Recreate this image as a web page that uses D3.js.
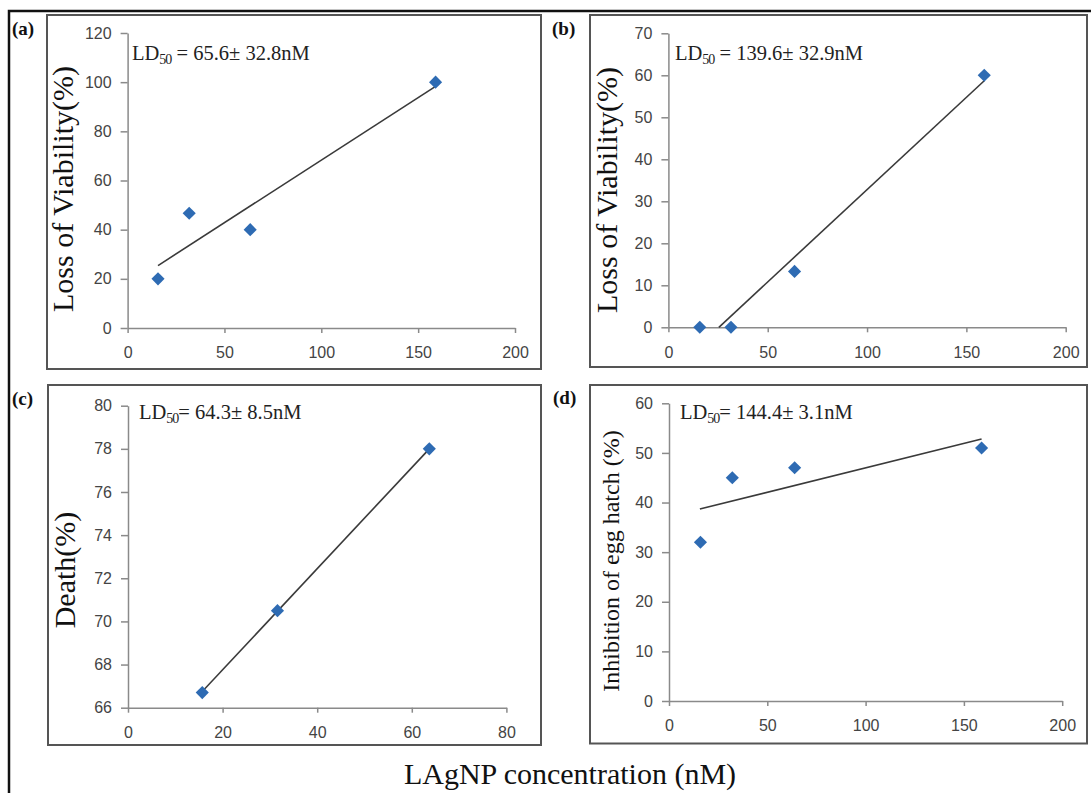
<!DOCTYPE html>
<html>
<head>
<meta charset="utf-8">
<script src="https://cdn.jsdelivr.net/npm/d3@7"></script>
<style>
  body { margin: 0; background: #fff; }
  svg { display: block; }
  .tick text { font-family: "Liberation Sans", Arial, sans-serif; font-size: 16px; fill: #444; }
  .axis path, .axis line { stroke: #8a8a8a; stroke-width: 1.5; }
</style>
</head>
<body>
<svg width="1091" height="793"></svg>
<script>
// Concentrations (nM)
var concA = [15.7, 31.8, 63.3, 159];
var concB = [15.8, 31.5, 63.5, 159];
var concC = [15.7, 31.6, 63.7];
var concD = [16, 32.2, 63.9, 159];

// Responses (%)
var viabilityA = [20, 46.7, 40, 100];
var viabilityB = [0, 0, 13.3, 60];
var deathC = [66.7, 70.5, 78];
var hatchD = [32, 45, 47, 51];

// Trend line end points [x, y] as drawn
var trendA = [[15.7, 25.4], [159, 98.3]];
var trendB = [[25.4, 0], [159, 58.7]];
var trendC = [[15.7, 66.75], [63.7, 78]];
var trendD = [[15.7, 38.7], [159, 52.8]];

// Tick labels
var xTicks200 = [0, 50, 100, 150, 200];
var xTicks80 = [0, 20, 40, 60, 80];
var yTicksA = [0, 20, 40, 60, 80, 100, 120];
var yTicksB = [0, 10, 20, 30, 40, 50, 60, 70];
var yTicksC = [66, 68, 70, 72, 74, 76, 78, 80];
var yTicksD = [0, 10, 20, 30, 40, 50, 60];

var ldTexts = ["65.6\u00b1 32.8nM", "139.6\u00b1 32.9nM", "64.3\u00b1 8.5nM", "144.4\u00b1 3.1nM"];

var svg = d3.select("svg");

// outer frame
svg.append("rect")
  .attr("x", 9).attr("y", 11)
  .attr("width", 1100).attr("height", 800)
  .attr("fill", "none")
  .attr("stroke", "#111")
  .attr("stroke-width", 2.5);

var panels = [
  { tag: "(a)", box: [47, 15, 541, 369], xr: [127.6, 515], yr: [328, 33], xd: [0, 200], yd: [0, 120],
    xt: xTicks200, yt: yTicksA, xs: concA, ys: viabilityA, trend: trendA,
    title: "Loss of Viability(%)", titleSize: 30, titleX: 73, titleY: 189,
    ld: ldTexts[0], ldEq: " = ", ldX: 132, ldY: 60, tagX: 12, tagY: 35 },
  { tag: "(b)", box: [590, 15, 1087, 367], xr: [668.4, 1065.7], yr: [327.3, 33.3], xd: [0, 200], yd: [0, 70],
    xt: xTicks200, yt: yTicksB, xs: concB, ys: viabilityB, trend: trendB,
    title: "Loss of Viability(%)", titleSize: 30, titleX: 617, titleY: 190,
    ld: ldTexts[1], ldEq: " = ", ldX: 675, ldY: 60, tagX: 552, tagY: 35 },
  { tag: "(c)", box: [48, 385, 541, 745], xr: [128, 506.4], yr: [707.7, 405.7], xd: [0, 80], yd: [66, 80],
    xt: xTicks80, yt: yTicksC, xs: concC, ys: deathC, trend: trendC,
    title: "Death(%)", titleSize: 30, titleX: 75, titleY: 570,
    ld: ldTexts[2], ldEq: "= ", ldX: 139, ldY: 419, tagX: 12, tagY: 405 },
  { tag: "(d)", box: [590, 385, 1087, 743.5], xr: [669, 1062.2], yr: [701, 403.3], xd: [0, 200], yd: [0, 60],
    xt: xTicks200, yt: yTicksD, xs: concD, ys: hatchD, trend: trendD,
    title: "Inhibition of egg hatch (%)", titleSize: 24, titleX: 619, titleY: 561,
    ld: ldTexts[3], ldEq: "= ", ldX: 680, ldY: 419, tagX: 553, tagY: 404 }
];

var line = d3.line();

panels.forEach(function(p) {
  var g = svg.append("g");

  // panel box
  g.append("rect")
    .attr("x", p.box[0]).attr("y", p.box[1])
    .attr("width", p.box[2] - p.box[0]).attr("height", p.box[3] - p.box[1])
    .attr("fill", "none")
    .attr("stroke", "#555")
    .attr("stroke-width", 2);

  var x = d3.scaleLinear().domain(p.xd).range(p.xr);
  var y = d3.scaleLinear().domain(p.yd).range(p.yr);

  g.append("g")
    .attr("class", "axis")
    .attr("transform", "translate(0," + p.yr[0] + ")")
    .call(d3.axisBottom(x).tickValues(p.xt).tickSize(5).tickPadding(14).tickSizeOuter(0));

  g.append("g")
    .attr("class", "axis")
    .attr("transform", "translate(" + p.xr[0] + ",0)")
    .call(d3.axisLeft(y).tickValues(p.yt).tickSize(7).tickPadding(9).tickSizeOuter(0));

  // trend line
  g.append("path")
    .attr("d", line(p.trend.map(function(d) { return [x(d[0]), y(d[1])]; })))
    .attr("fill", "none")
    .attr("stroke", "#3a3a3a")
    .attr("stroke-width", 1.6);

  // points
  g.selectAll(".pt")
    .data(p.xs.map(function(v, i) { return [v, p.ys[i]]; }))
    .enter().append("path")
    .attr("class", "pt")
    .attr("d", d3.symbol().type(d3.symbolDiamond2).size(110))
    .attr("transform", function(d) { return "translate(" + x(d[0]) + "," + y(d[1]) + ")"; })
    .attr("fill", "#2e6bb3");

  // y title
  g.append("text")
    .attr("transform", "translate(" + p.titleX + "," + p.titleY + ") rotate(-90)")
    .attr("text-anchor", "middle")
    .style("font-family", "'Liberation Serif', 'Times New Roman', serif")
    .style("font-size", p.titleSize + "px")
    .attr("fill", "#111")
    .text(p.title);

  // LD50 annotation
  var ld = g.append("text")
    .attr("x", p.ldX).attr("y", p.ldY)
    .style("font-family", "'Liberation Serif', 'Times New Roman', serif")
    .style("font-size", "20.5px")
    .attr("fill", "#222");
  ld.append("tspan").text("LD");
  ld.append("tspan").attr("dy", 4).style("font-size", "14px").style("letter-spacing", "-1px").text("50");
  ld.append("tspan").attr("dy", -4).text(p.ldEq + p.ld);

  // panel tag
  g.append("text")
    .attr("x", p.tagX).attr("y", p.tagY)
    .style("font-family", "'Liberation Serif', 'Times New Roman', serif")
    .style("font-size", "19px")
    .style("font-weight", "bold")
    .attr("fill", "#111")
    .text(p.tag);
});

// shared x title
svg.append("text")
  .attr("x", 570).attr("y", 784)
  .attr("text-anchor", "middle")
  .style("font-family", "'Liberation Serif', 'Times New Roman', serif")
  .style("font-size", "30px")
  .attr("fill", "#111")
  .text("LAgNP concentration (nM)");
</script>
</body>
</html>
